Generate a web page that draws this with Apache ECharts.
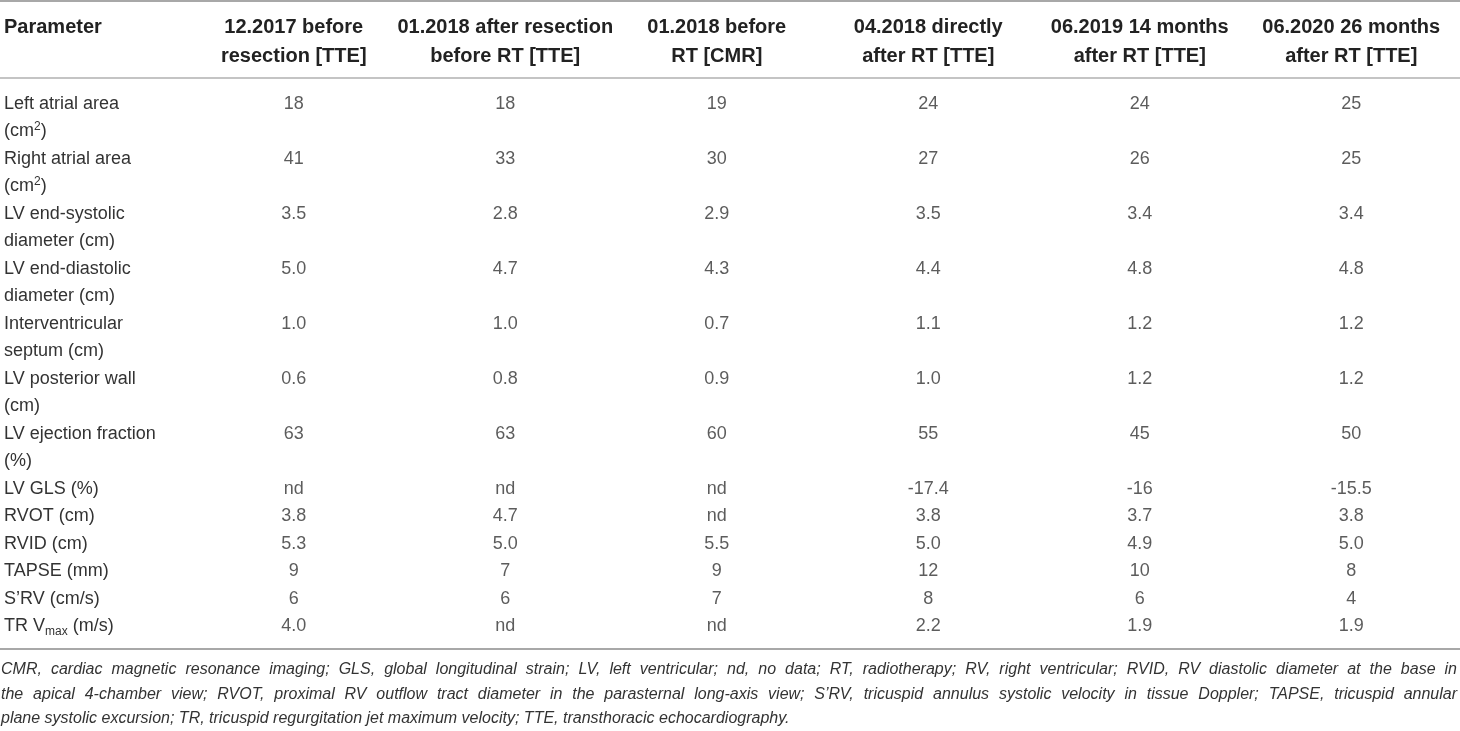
<!DOCTYPE html>
<html>
<head>
<meta charset="utf-8">
<title>Echocardiographic parameters</title>
<script src="https://cdn.jsdelivr.net/npm/echarts@6/dist/echarts.min.js"></script>
<style>
  html, body { margin: 0; padding: 0; background: #fff; }
  #main { width: 1460px; height: 731px; }
</style>
</head>
<body>
<div id="main"></div>
<script>
// column headers (time points)
var columns = [
  '12.2017 before\nresection [TTE]',
  '01.2018 after resection\nbefore RT [TTE]',
  '01.2018 before\nRT [CMR]',
  '04.2018 directly\nafter RT [TTE]',
  '06.2019 14 months\nafter RT [TTE]',
  '06.2020 26 months\nafter RT [TTE]'
];

// parameter names, one entry per printed line
var paramLines = [
  ['Left atrial area', '(cm{sup|2})'],
  ['Right atrial area', '(cm{sup|2})'],
  ['LV end-systolic', 'diameter (cm)'],
  ['LV end-diastolic', 'diameter (cm)'],
  ['Interventricular', 'septum (cm)'],
  ['LV posterior wall', '(cm)'],
  ['LV ejection fraction', '(%)'],
  ['LV GLS (%)'],
  ['RVOT (cm)'],
  ['RVID (cm)'],
  ['TAPSE (mm)'],
  ['S\u2019RV (cm/s)'],
  ['TR V{sub|max} (m/s)']
];

// values per parameter, one per time point (nd = no data)
var leftAtrialArea  = ['18', '18', '19', '24', '24', '25'];
var rightAtrialArea = ['41', '33', '30', '27', '26', '25'];
var lvEndSystolic   = ['3.5', '2.8', '2.9', '3.5', '3.4', '3.4'];
var lvEndDiastolic  = ['5.0', '4.7', '4.3', '4.4', '4.8', '4.8'];
var ivSeptum        = ['1.0', '1.0', '0.7', '1.1', '1.2', '1.2'];
var lvPosteriorWall = ['0.6', '0.8', '0.9', '1.0', '1.2', '1.2'];
var lvEF            = ['63', '63', '60', '55', '45', '50'];
var lvGLS           = ['nd', 'nd', 'nd', '-17.4', '-16', '-15.5'];
var rvot            = ['3.8', '4.7', 'nd', '3.8', '3.7', '3.8'];
var rvid            = ['5.3', '5.0', '5.5', '5.0', '4.9', '5.0'];
var tapse           = ['9', '7', '9', '12', '10', '8'];
var sRV             = ['6', '6', '7', '8', '6', '4'];
var trVmax          = ['4.0', 'nd', 'nd', '2.2', '1.9', '1.9'];

var rows = [leftAtrialArea, rightAtrialArea, lvEndSystolic, lvEndDiastolic, ivSeptum,
  lvPosteriorWall, lvEF, lvGLS, rvot, rvid, tapse, sRV, trVmax];

// footnote, as printed (first two lines justified)
var footnote = [
  'CMR, cardiac magnetic resonance imaging; GLS, global longitudinal strain; LV, left ventricular; nd, no data; RT, radiotherapy; RV, right ventricular; RVID, RV diastolic diameter at the base in',
  'the apical 4-chamber view; RVOT, proximal RV outflow tract diameter in the parasternal long-axis view; S\u2019RV, tricuspid annulus systolic velocity in tissue Doppler; TAPSE, tricuspid annular',
  'plane systolic excursion; TR, tricuspid regurgitation jet maximum velocity; TTE, transthoracic echocardiography.'
];

// one y slot per printed line, values sit on the first line of their row
var lineLabels = [];
var rowStart = [];
paramLines.forEach(function (lines) {
  rowStart.push(lineLabels.length);
  lines.forEach(function (l) { lineLabels.push(l); });
});
var slotKeys = lineLabels.map(function (l, i) { return 'L' + i; });

var cells = [];
rows.forEach(function (vals, r) {
  vals.forEach(function (v, c) {
    cells.push([c, rowStart[r], v]);
  });
});

var FONT = '"Liberation Sans", Arial, sans-serif';
var NOTE_SIZE = 16;

// justify a footnote line: spread words over the full width
var ctx = document.createElement('canvas').getContext('2d');
ctx.font = 'italic ' + NOTE_SIZE + 'px ' + FONT;
function noteLine(text, y, justify) {
  var style = { fontFamily: FONT, fontSize: NOTE_SIZE, fontStyle: 'italic',
    fill: '#333', verticalAlign: 'middle' };
  if (!justify) {
    return [{ type: 'text', silent: true, x: 1, y: y, style: Object.assign({ text: text }, style) }];
  }
  var words = text.split(' ');
  var widths = words.map(function (w) { return ctx.measureText(w).width; });
  var total = widths.reduce(function (a, b) { return a + b; }, 0);
  var gap = (1457 - 1 - total) / (words.length - 1);
  var x = 1;
  return words.map(function (w, i) {
    var el = { type: 'text', silent: true, x: x, y: y, style: Object.assign({ text: w }, style) };
    x += widths[i] + gap;
    return el;
  });
}

var notes = [];
footnote.forEach(function (t, i) {
  notes = notes.concat(noteLine(t, 670 + i * 24.5, i < footnote.length - 1));
});

var chart = echarts.init(document.getElementById('main'));

var option = {
  animation: false,
  backgroundColor: '#fff',
  textStyle: { fontFamily: FONT },
  grid: { left: 188, right: 3, top: 90, bottom: 91 },
  xAxis: {
    type: 'category',
    position: 'top',
    data: columns,
    axisLine: { show: false },
    axisTick: { show: false },
    splitLine: { show: false },
    axisLabel: {
      interval: 0,
      margin: 19,
      fontFamily: FONT,
      fontSize: 20,
      fontWeight: 'bold',
      lineHeight: 29,
      color: '#222'
    }
  },
  yAxis: {
    type: 'category',
    inverse: true,
    data: slotKeys,
    axisLine: { show: false },
    axisTick: { show: false },
    splitLine: { show: false },
    axisLabel: {
      interval: 0,
      align: 'left',
      margin: 184,
      fontFamily: FONT,
      fontSize: 18,
      lineHeight: 22,
      color: '#333',
      formatter: function (v, i) { return lineLabels[i]; },
      rich: {
        sup: { fontFamily: FONT, fontSize: 12, lineHeight: 12, verticalAlign: 'top', color: '#333' },
        sub: { fontFamily: FONT, fontSize: 12, lineHeight: 12, verticalAlign: 'bottom', color: '#333' }
      }
    }
  },
  series: [{
    type: 'scatter',
    silent: true,
    symbolSize: 1,
    itemStyle: { color: 'rgba(0,0,0,0)' },
    data: cells,
    label: {
      show: true,
      position: 'inside',
      fontFamily: FONT,
      fontSize: 18,
      color: '#333',
      formatter: function (p) { return p.value[2]; }
    }
  }],
  graphic: [
    { type: 'line', silent: true, shape: { x1: 0, y1: 1, x2: 1460, y2: 1 },
      style: { stroke: '#a8a8a8', lineWidth: 2 } },
    { type: 'line', silent: true, shape: { x1: 0, y1: 78, x2: 1460, y2: 78 },
      style: { stroke: '#c4c4c4', lineWidth: 2 } },
    { type: 'line', silent: true, shape: { x1: 0, y1: 649, x2: 1460, y2: 649 },
      style: { stroke: '#a8a8a8', lineWidth: 2 } },
    { type: 'text', silent: true, x: 4, y: 27,
      style: { text: 'Parameter', fontFamily: FONT, fontSize: 20, fontWeight: 'bold',
        fill: '#222', verticalAlign: 'middle' } }
  ].concat(notes)
};

chart.setOption(option);
</script>
</body>
</html>
